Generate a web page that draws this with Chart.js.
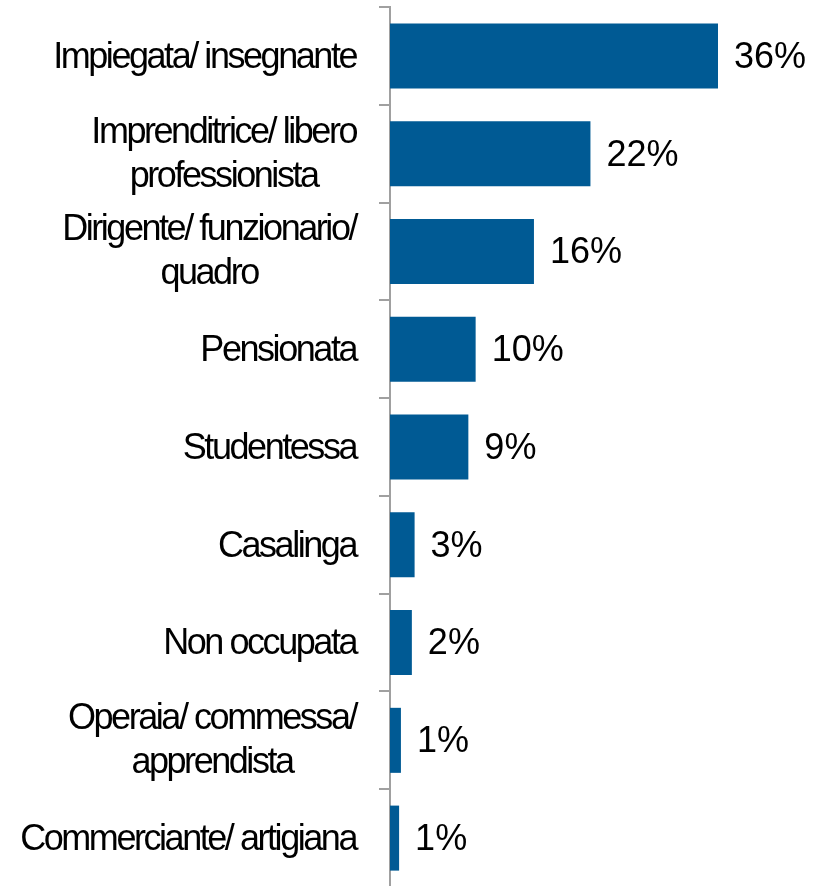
<!DOCTYPE html>
<html>
<head>
<meta charset="utf-8">
<script src="https://cdn.jsdelivr.net/npm/chart.js@4.4.1/dist/chart.umd.min.js"></script>
<style>
  html, body { margin: 0; padding: 0; background: #ffffff; overflow: hidden; }
  #wrap { position: relative; width: 823px; height: 887px; }
</style>
</head>
<body>
<div id="wrap"><canvas id="c"></canvas></div>
<script>
const categories = [
  'Impiegata/ insegnante',
  ['Imprenditrice/ libero', 'professionista'],
  ['Dirigente/ funzionario/', 'quadro'],
  'Pensionata',
  'Studentessa',
  'Casalinga',
  'Non occupata',
  ['Operaia/ commessa/', 'apprendista'],
  'Commerciante/ artigiana'
];
const values = [36.0, 22.0, 15.8, 9.4, 8.6, 2.7, 2.4, 1.2, 1.0];
const valueLabels = ['36%', '22%', '16%', '10%', '9%', '3%', '2%', '1%', '1%'];

const FONT = "'Liberation Sans', Arial, sans-serif";
const LABEL_SPACING = '-2.45px';

const labelPlugin = {
  id: 'labelPlugin',
  afterDatasetsDraw(chart) {
    const ctx = chart.ctx;
    const meta = chart.getDatasetMeta(0);
    const yScale = chart.scales.y;
    // value labels
    ctx.save();
    ctx.letterSpacing = '0px';
    ctx.font = '36px ' + FONT;
    ctx.fillStyle = '#000000';
    ctx.textAlign = 'left';
    ctx.textBaseline = 'middle';
    meta.data.forEach((bar, i) => {
      ctx.fillText(valueLabels[i], bar.x + 16, bar.y + 2);
    });
    ctx.restore();
    // category labels: block right-aligned, lines centered within block
    ctx.save();
    ctx.letterSpacing = LABEL_SPACING;
    ctx.font = '36px ' + FONT;
    ctx.fillStyle = '#000000';
    ctx.textAlign = 'center';
    ctx.textBaseline = 'middle';
    const rightEdge = yScale.right - 11 - 23;
    const lineH = 44;
    categories.forEach((lab, i) => {
      const lines = Array.isArray(lab) ? lab : [lab];
      const widths = lines.map(l => ctx.measureText(l).width);
      const blockW = Math.max(...widths);
      const cx = rightEdge - blockW / 2;
      const cy = yScale.getPixelForTick(i) + (lines.length > 1 ? 1 : 2);
      const y0 = cy - (lines.length - 1) * lineH / 2;
      lines.forEach((l, j) => ctx.fillText(l, cx, y0 + j * lineH));
    });
    ctx.restore();
  }
};

new Chart(document.getElementById('c'), {
  type: 'bar',
  data: {
    labels: categories,
    datasets: [{
      data: values,
      backgroundColor: '#005a94',
      borderWidth: 0,
      categoryPercentage: 1.0,
      barPercentage: 0.665
    }]
  },
  options: {
    indexAxis: 'y',
    responsive: true,
    maintainAspectRatio: false,
    animation: false,
    layout: { padding: { top: 7, right: 23, bottom: 0, left: 0 } },
    plugins: { legend: { display: false }, tooltip: { enabled: false } },
    scales: {
      x: {
        display: false,
        min: 0,
        max: 45
      },
      y: {
        afterFit(scale) {
          scale.width = 390;
          scale.paddingTop = 0;
          scale.paddingBottom = 0;
        },
        grid: {
          display: true,
          drawOnChartArea: false,
          drawTicks: true,
          tickLength: 11,
          color: '#a0a0a0',
          lineWidth: 2,
          offset: true
        },
        border: { display: true, color: '#a0a0a0', width: 2 },
        ticks: {
          display: false,
          autoSkip: false,
          font: { family: FONT, size: 36 }
        }
      }
    }
  },
  plugins: [labelPlugin]
});
</script>
</body>
</html>
